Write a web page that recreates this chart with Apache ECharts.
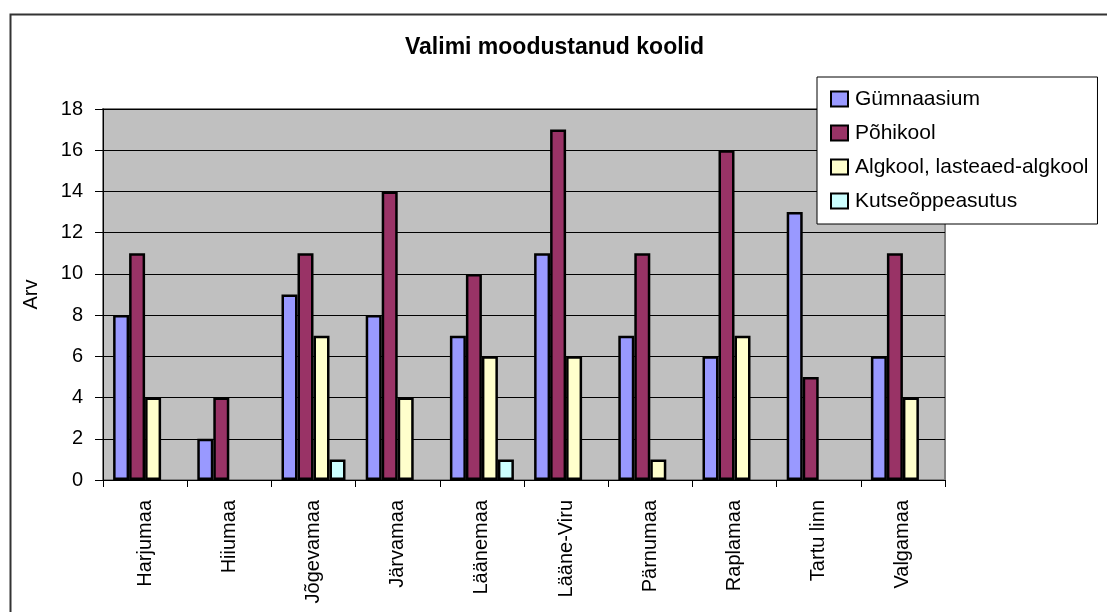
<!DOCTYPE html>
<html>
<head>
<meta charset="utf-8">
<script src="https://cdn.jsdelivr.net/npm/echarts@6/dist/echarts.min.js"></script>
<style>
  html, body { margin: 0; padding: 0; background: #fff; }
  #chart { width: 1107px; height: 612px; }
</style>
</head>
<body>
<div id="chart"></div>
<script>
// maakonnad
const categories = ['Harjumaa', 'Hiiumaa', 'Jõgevamaa', 'Järvamaa', 'Läänemaa', 'Lääne-Viru', 'Pärnumaa', 'Raplamaa', 'Tartu linn', 'Valgamaa']
const seriesNames = ['Gümnaasium', 'Põhikool', 'Algkool, lasteaed-algkool', 'Kutseõppeasutus']
const gymnaasium = [8, 2, 9, 8, 7, 11, 7, 6, 13, 6]
const pohikool = [11, 4, 11, 14, 10, 17, 11, 16, 5, 11]
const algkool = [4, 0, 7, 4, 6, 6, 1, 7, 0, 4]
const kutse = [0, 0, 1, 0, 1, 0, 0, 0, 0, 0]
const yTicks = [0, 2, 4, 6, 8, 10, 12, 14, 16, 18]

const colors = ['#9999FF', '#993366', '#FFFFCC', '#CCFFFF']
const font = 'Liberation Sans, Arial, sans-serif'

const chart = echarts.init(document.getElementById('chart'))

// nullväärtusi ei joonistata
const seriesArr = [gymnaasium, pohikool, algkool, kutse].map((vals, i) => {
  return {
    name: seriesNames[i],
    type: 'bar',
    barWidth: 16,
    barGap: '0%',
    data: vals.map(v => (v === 0 ? null : v)),
    itemStyle: {
      color: colors[i],
      borderColor: '#000',
      borderWidth: 2.5
    }
  }
})

const option = {
  animation: false,
  textStyle: { fontFamily: font },
  title: {
    text: 'Valimi moodustanud koolid',
    left: 405,
    top: 36,
    padding: 0,
    textStyle: { fontSize: 23, fontWeight: 'bold', color: '#000', fontFamily: font }
  },
  legend: {
    orient: 'vertical',
    left: 817,
    top: 77,
    padding: [11, 9, 12, 13],
    itemGap: 12,
    itemWidth: 17,
    itemHeight: 15,
    icon: 'rect',
    backgroundColor: '#fff',
    borderColor: '#000',
    borderWidth: 1,
    borderRadius: 0,
    z: 10,
    itemStyle: { borderColor: '#000', borderWidth: 2 },
    textStyle: { fontSize: 21, color: '#000', fontFamily: font, lineHeight: 22, padding: [0, 0, 0, 2] },
    data: seriesNames
  },
  grid: {
    left: 103,
    right: 162,
    top: 109,
    bottom: 132,
    show: true,
    backgroundColor: '#C0C0C0',
    borderColor: '#808080',
    borderWidth: 2
  },
  xAxis: {
    type: 'category',
    data: categories,
    axisLine: { lineStyle: { color: '#000', width: 1 } },
    axisTick: { show: true, length: 7, lineStyle: { color: '#000' } },
    axisLabel: { rotate: 90, fontSize: 20, color: '#000', margin: 20, fontFamily: font }
  },
  yAxis: {
    type: 'value',
    min: yTicks[0],
    max: yTicks[yTicks.length - 1],
    interval: 2,
    name: 'Arv',
    nameLocation: 'middle',
    nameRotate: 90,
    nameGap: 62,
    nameTextStyle: { fontSize: 20, color: '#000', fontFamily: font },
    axisLine: { show: true, lineStyle: { color: '#000', width: 1 } },
    axisTick: { show: true, length: 8, lineStyle: { color: '#000' } },
    axisLabel: { fontSize: 20, color: '#000', margin: 20, fontFamily: font },
    splitLine: { lineStyle: { color: '#000', width: 1 } }
  },
  graphic: [
    {
      type: 'rect',
      left: 8,
      top: 12,
      shape: { width: 1200, height: 700 },
      style: { fill: 'none', stroke: '#333', lineWidth: 2 },
      z: 100
    }
  ],
  series: seriesArr
}

chart.setOption(option)
</script>
</body>
</html>
